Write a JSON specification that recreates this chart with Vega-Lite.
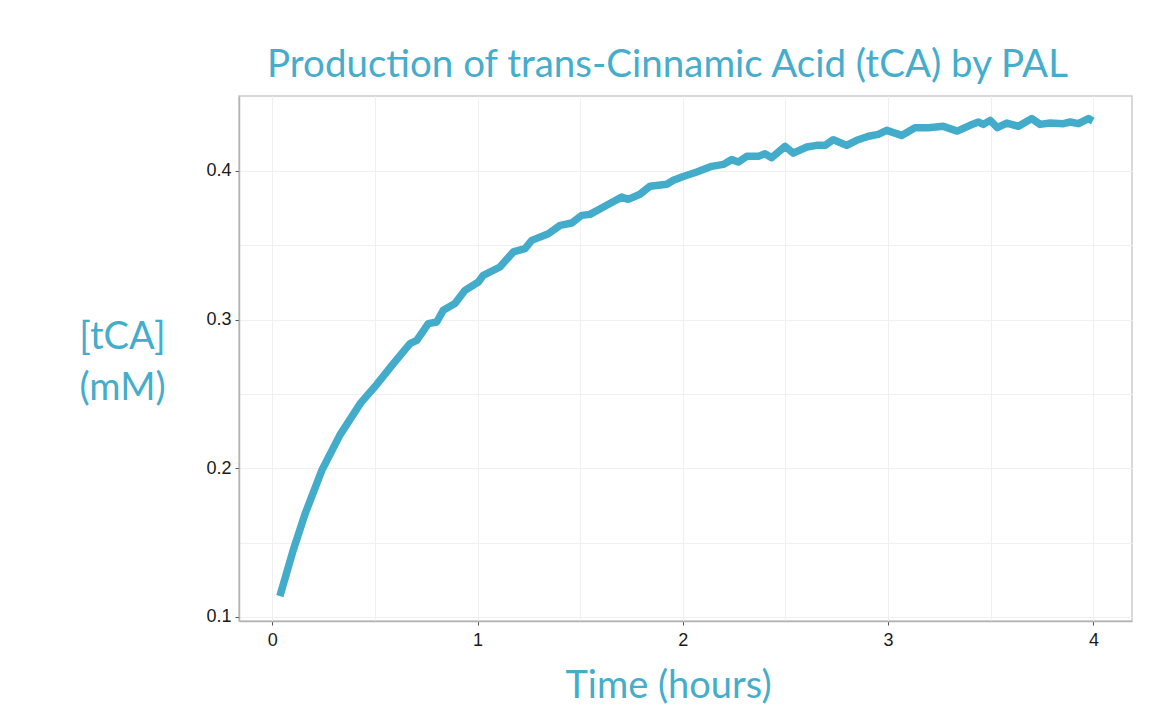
{
  "$schema": "https://vega.github.io/schema/vega-lite/v6.json",
  "width": 893,
  "height": 525,
  "autosize": {"type": "none"},
  "padding": {"left": 239, "top": 96, "right": 23, "bottom": 86},
  "background": "#ffffff",
  "title": {
    "text": "Production of trans-Cinnamic Acid (tCA) by PAL",
    "font": "Lato",
    "fontSize": 38.5,
    "fontWeight": "normal",
    "color": "#45ADCC",
    "anchor": "middle",
    "dx": -18,
    "offset": 11
  },
  "data": {
    "values": [
      {"time": 0.037, "tca": 0.1140},
      {"time": 0.102, "tca": 0.1449},
      {"time": 0.159, "tca": 0.1690},
      {"time": 0.241, "tca": 0.1985},
      {"time": 0.330, "tca": 0.2225},
      {"time": 0.431, "tca": 0.2440},
      {"time": 0.509, "tca": 0.2564},
      {"time": 0.590, "tca": 0.2704},
      {"time": 0.671, "tca": 0.2839},
      {"time": 0.704, "tca": 0.2861},
      {"time": 0.760, "tca": 0.2973},
      {"time": 0.801, "tca": 0.2984},
      {"time": 0.833, "tca": 0.3063},
      {"time": 0.890, "tca": 0.3108},
      {"time": 0.939, "tca": 0.3197},
      {"time": 1.004, "tca": 0.3253},
      {"time": 1.028, "tca": 0.3298},
      {"time": 1.109, "tca": 0.3354},
      {"time": 1.174, "tca": 0.3455},
      {"time": 1.231, "tca": 0.3478},
      {"time": 1.264, "tca": 0.3533},
      {"time": 1.345, "tca": 0.3578},
      {"time": 1.402, "tca": 0.3634},
      {"time": 1.459, "tca": 0.3650},
      {"time": 1.507, "tca": 0.3701},
      {"time": 1.548, "tca": 0.3708},
      {"time": 1.629, "tca": 0.3769},
      {"time": 1.702, "tca": 0.3824},
      {"time": 1.734, "tca": 0.3809},
      {"time": 1.791, "tca": 0.3843},
      {"time": 1.840, "tca": 0.3897},
      {"time": 1.922, "tca": 0.3910},
      {"time": 1.954, "tca": 0.3937},
      {"time": 2.002, "tca": 0.3963},
      {"time": 2.068, "tca": 0.3993},
      {"time": 2.141, "tca": 0.4031},
      {"time": 2.197, "tca": 0.4044},
      {"time": 2.238, "tca": 0.4076},
      {"time": 2.270, "tca": 0.4060},
      {"time": 2.311, "tca": 0.4098},
      {"time": 2.368, "tca": 0.4098},
      {"time": 2.400, "tca": 0.4116},
      {"time": 2.433, "tca": 0.4089},
      {"time": 2.498, "tca": 0.4165},
      {"time": 2.538, "tca": 0.4120},
      {"time": 2.604, "tca": 0.4161},
      {"time": 2.652, "tca": 0.4172},
      {"time": 2.693, "tca": 0.4172},
      {"time": 2.733, "tca": 0.4210},
      {"time": 2.798, "tca": 0.4172},
      {"time": 2.847, "tca": 0.4206},
      {"time": 2.904, "tca": 0.4233},
      {"time": 2.952, "tca": 0.4246},
      {"time": 2.993, "tca": 0.4273},
      {"time": 3.066, "tca": 0.4239},
      {"time": 3.131, "tca": 0.4291},
      {"time": 3.196, "tca": 0.4291},
      {"time": 3.269, "tca": 0.4300},
      {"time": 3.337, "tca": 0.4268},
      {"time": 3.399, "tca": 0.4307},
      {"time": 3.440, "tca": 0.4329},
      {"time": 3.464, "tca": 0.4313},
      {"time": 3.497, "tca": 0.4340},
      {"time": 3.532, "tca": 0.4291},
      {"time": 3.578, "tca": 0.4322},
      {"time": 3.635, "tca": 0.4300},
      {"time": 3.700, "tca": 0.4352},
      {"time": 3.740, "tca": 0.4313},
      {"time": 3.789, "tca": 0.4322},
      {"time": 3.854, "tca": 0.4318},
      {"time": 3.887, "tca": 0.4329},
      {"time": 3.927, "tca": 0.4318},
      {"time": 3.976, "tca": 0.4352},
      {"time": 3.997, "tca": 0.4336}
    ]
  },
  "mark": {
    "type": "line",
    "color": "#44ACCB",
    "strokeWidth": 7.5,
    "strokeCap": "butt",
    "strokeJoin": "round",
    "clip": true
  },
  "encoding": {
    "x": {
      "field": "time",
      "type": "quantitative",
      "scale": {"domain": [-0.162, 4.188], "nice": false, "zero": false},
      "axis": {
        "title": "Time (hours)",
        "values": [0, 0.5, 1, 1.5, 2, 2.5, 3, 3.5, 4],
        "labelExpr": "datum.value % 1 === 0 ? format(datum.value, 'd') : ''",
        "tickOpacity": {"expr": "datum.value % 1 === 0 ? 1 : 0"},
        "labelPadding": 6,
        "titleX": 429,
        "titleY": 76,
        "titleAlign": "center",
        "titleBaseline": "alphabetic"
      }
    },
    "y": {
      "field": "tca",
      "type": "quantitative",
      "scale": {"domain": [0.0973, 0.4504], "nice": false, "zero": false},
      "axis": {
        "title": ["[tCA]", "(mM)"],
        "values": [0.1, 0.15, 0.2, 0.25, 0.3, 0.35, 0.4],
        "labelExpr": "abs(datum.value * 10 - round(datum.value * 10)) < 0.001 ? format(datum.value, '.1f') : ''",
        "tickOpacity": {"expr": "abs(datum.value * 10 - round(datum.value * 10)) < 0.001 ? 1 : 0"},
        "titleAngle": 0,
        "titleX": -117,
        "titleY": 241,
        "titleAlign": "center",
        "titleBaseline": "middle",
        "titleLineHeight": 51
      }
    }
  },
  "config": {
    "view": {"stroke": "#cccccc", "strokeWidth": 1.5},
    "axis": {
      "domainColor": "#b3b3b3",
      "domainWidth": 1.5,
      "grid": true,
      "gridColor": "#f0f0f0",
      "gridWidth": 1,
      "tickColor": "#555555",
      "tickSize": 4,
      "tickWidth": 1,
      "labelFont": "Liberation Sans",
      "labelFontSize": 18,
      "labelColor": "#1a1a1a",
      "labelPadding": 4,
      "titleFont": "Lato",
      "titleFontSize": 38,
      "titleFontWeight": "normal",
      "titleColor": "#45ADCC"
    }
  }
}
